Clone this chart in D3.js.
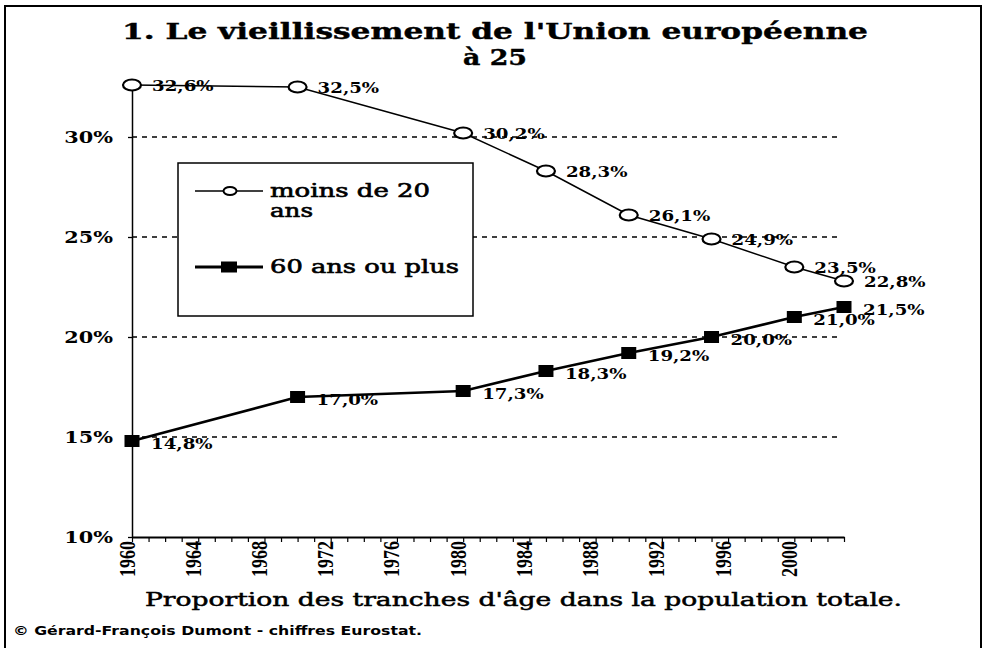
<!DOCTYPE html>
<html>
<head>
<meta charset="utf-8">
<script src="https://cdn.jsdelivr.net/npm/d3@7"></script>
<style>
  html, body { margin: 0; padding: 0; background: #fff; }
  svg { display: block; }
</style>
</head>
<body>
<div id="chart"></div>
<script>
// values
const years = [1960, 1970, 1980, 1985, 1990, 1995, 2000, 2003];
const under20 = [32.6, 32.5, 30.2, 28.3, 26.1, 24.9, 23.5, 22.8];
const over60 = [14.8, 17.0, 17.3, 18.3, 19.2, 20.0, 21.0, 21.5];
const seriesNames = ['moins de 20 ans', '60 ans ou plus'];
const yTicks = [10, 15, 20, 25, 30];
const yearLabels = [1960, 1964, 1968, 1972, 1976, 1980, 1984, 1988, 1992, 1996, 2000];

const width = 983, height = 648;
const serif = '"DejaVu Serif", serif';
const stretch = 1.3; // the picture is wider than tall, text is stretched too

const svg = d3.select('#chart').append('svg')
  .attr('width', width)
  .attr('height', height);

/* ----------frame------------*/
svg.append('path')
  .attr('d', 'M5,648 V6 H981 V648')
  .attr('fill', 'none')
  .attr('stroke', '#000')
  .attr('stroke-width', 2);

/* ----------scales------------*/
const x = d3.scaleLinear().domain([1960, 2003]).range([132, 844]);
const y = d3.scaleLinear().domain([10, 32.6]).range([537, 85]);
const fr = d3.formatLocale({ decimal: ',', thousands: ' ', grouping: [3], currency: ['', ' €'] });
const fmt = v => fr.format('.1f')(v) + '%';

/* ----------title------------*/
svg.append('text')
  .attr('x', 122).attr('y', 39)
  .attr('font-family', serif).attr('font-weight', 'bold').attr('font-size', 22)
  .attr('stroke', '#000').attr('stroke-width', 0.4)
  .attr('textLength', 746).attr('lengthAdjust', 'spacingAndGlyphs')
  .text("1. Le vieillissement de l'Union européenne");
svg.append('text')
  .attr('x', 463).attr('y', 65)
  .attr('font-family', serif).attr('font-weight', 'bold').attr('font-size', 22)
  .attr('stroke', '#000').attr('stroke-width', 0.4)
  .attr('textLength', 64).attr('lengthAdjust', 'spacingAndGlyphs')
  .text('à 25');

/* ----------grid------------*/
svg.append('g').selectAll('line')
  .data(yTicks.filter(t => t > 10))
  .enter().append('line')
  .attr('x1', x(1960)).attr('x2', 838)
  .attr('y1', d => y(d)).attr('y2', d => y(d))
  .attr('stroke', '#000')
  .attr('stroke-width', 1.3)
  .attr('stroke-dasharray', '5,5');

/* ----------axes------------*/
const xAxis = d3.axisBottom(x)
  .tickValues(d3.range(1960, 2004))
  .tickSize(5)
  .tickSizeOuter(0)
  .tickFormat(d => yearLabels.includes(d) ? d : '');

const gx = svg.append('g')
  .attr('transform', 'translate(0,' + y(10) + ')')
  .call(xAxis);
gx.select('.domain').attr('stroke-width', 2);
gx.selectAll('.tick line').attr('stroke-width', 1.2);
gx.selectAll('.tick text')
  .attr('transform', 'rotate(-90)')
  .attr('text-anchor', 'end')
  .attr('x', -4)
  .attr('y', 2)
  .attr('dy', 0)
  .attr('font-family', '"Liberation Serif", serif')
  .attr('font-weight', 'bold')
  .attr('font-size', 24)
  .attr('fill', '#000')
  .each(function(d) {
    if (yearLabels.includes(d)) {
      d3.select(this).attr('textLength', 36).attr('lengthAdjust', 'spacingAndGlyphs');
    }
  });

const yAxis = d3.axisLeft(y)
  .tickValues(yTicks)
  .tickSize(4)
  .tickSizeOuter(0)
  .tickFormat(d => d + '%');

const gy = svg.append('g')
  .attr('transform', 'translate(' + x(1960) + ',0)')
  .call(yAxis);
gy.select('.domain').attr('stroke-width', 1.5);
gy.selectAll('.tick line').attr('stroke-width', 1.3);
gy.selectAll('.tick text')
  .attr('x', null).attr('dy', null)
  .attr('transform', 'translate(-19,5) scale(' + stretch + ',1)')
  .attr('font-family', serif)
  .attr('font-weight', 'bold')
  .attr('font-size', 16)
  .attr('fill', '#000');

/* ----------legend------------*/
const legend = svg.append('g');
legend.append('rect')
  .attr('x', 178).attr('y', 163)
  .attr('width', 295).attr('height', 153)
  .attr('fill', '#fff')
  .attr('stroke', '#000')
  .attr('stroke-width', 1.5);

legend.append('line')
  .attr('x1', 195).attr('x2', 263).attr('y1', 191).attr('y2', 191)
  .attr('stroke', '#000').attr('stroke-width', 1.5);
legend.append('ellipse')
  .attr('cx', 230).attr('cy', 191).attr('rx', 6.5).attr('ry', 4)
  .attr('fill', '#fff').attr('stroke', '#000').attr('stroke-width', 2);
legend.append('line')
  .attr('x1', 195).attr('x2', 263).attr('y1', 267).attr('y2', 267)
  .attr('stroke', '#000').attr('stroke-width', 2.8);
legend.append('rect')
  .attr('x', 221).attr('y', 261.5).attr('width', 16).attr('height', 11)
  .attr('fill', '#000');

const firstName = seriesNames[0].split(' ');
[
  { t: firstName.slice(0, 3).join(' '), x: 270, y: 197, w: 160 },
  { t: firstName.slice(3).join(' '), x: 270, y: 217, w: 43 },
  { t: seriesNames[1], x: 270, y: 273, w: 189 }
].forEach(l => {
  legend.append('text')
    .attr('x', l.x).attr('y', l.y)
    .attr('font-family', serif).attr('font-size', 18)
    .attr('stroke', '#000').attr('stroke-width', 0.6)
    .attr('textLength', l.w).attr('lengthAdjust', 'spacingAndGlyphs')
    .text(l.t);
});

/* ----------series------------*/
const lineGen = d3.line().x((d, i) => x(years[i])).y(d => y(d));

svg.append('path')
  .datum(under20)
  .attr('d', lineGen)
  .attr('fill', 'none')
  .attr('stroke', '#000')
  .attr('stroke-width', 1.5);

svg.append('path')
  .datum(over60)
  .attr('d', lineGen)
  .attr('fill', 'none')
  .attr('stroke', '#000')
  .attr('stroke-width', 2.6);

svg.append('g').selectAll('ellipse')
  .data(under20)
  .enter().append('ellipse')
  .attr('cx', (d, i) => x(years[i]))
  .attr('cy', d => y(d))
  .attr('rx', 9).attr('ry', 5.5)
  .attr('fill', '#fff')
  .attr('stroke', '#000')
  .attr('stroke-width', 2.2);

svg.append('g').selectAll('rect')
  .data(over60)
  .enter().append('rect')
  .attr('x', (d, i) => x(years[i]) - 7.5)
  .attr('y', d => y(d) - 6)
  .attr('width', 15).attr('height', 12)
  .attr('fill', '#000');

/* ----------value labels------------*/
svg.append('g').selectAll('text')
  .data(under20)
  .enter().append('text')
  .attr('transform', (d, i) => 'translate(' + (x(years[i]) + 20) + ',' + (y(d) + 6) + ') scale(' + stretch + ',1)')
  .attr('font-family', serif)
  .attr('font-weight', 'bold')
  .attr('font-size', 14)
  .text(fmt);

svg.append('g').selectAll('text')
  .data(over60)
  .enter().append('text')
  .attr('transform', (d, i) => 'translate(' + (x(years[i]) + 19) + ',' + (y(d) + 8) + ') scale(' + stretch + ',1)')
  .attr('font-family', serif)
  .attr('font-weight', 'bold')
  .attr('font-size', 14)
  .text(fmt);

/* ----------axis title & source------------*/
svg.append('text')
  .attr('x', 145).attr('y', 606)
  .attr('font-family', serif).attr('font-size', 18)
  .attr('stroke', '#000').attr('stroke-width', 0.5)
  .attr('textLength', 757).attr('lengthAdjust', 'spacingAndGlyphs')
  .text("Proportion des tranches d'âge dans la population totale.");

svg.append('text')
  .attr('x', 13).attr('y', 635)
  .attr('font-family', '"DejaVu Sans", sans-serif').attr('font-weight', 'bold').attr('font-size', 13)
  .attr('textLength', 409).attr('lengthAdjust', 'spacingAndGlyphs')
  .text('© Gérard-François Dumont - chiffres Eurostat.');
</script>
</body>
</html>
